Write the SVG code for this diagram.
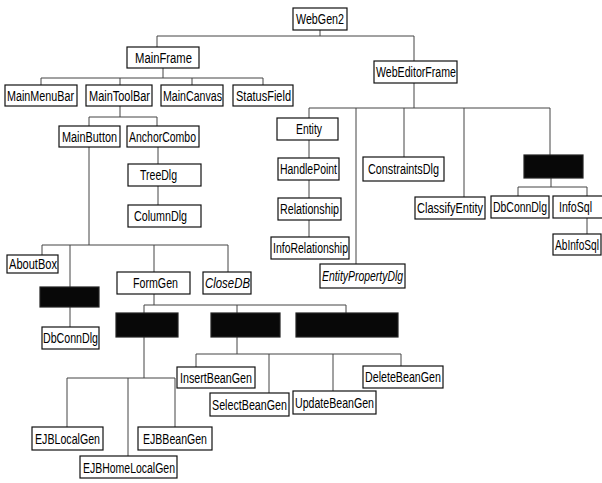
<svg xmlns="http://www.w3.org/2000/svg" width="602" height="483" viewBox="0 0 602 483">
<style>
.n rect{fill:#fff;stroke:#111;stroke-width:1.2}
.n rect.blk{fill:#080808;stroke:#222}
.n text{font-family:"Liberation Sans",Arial,sans-serif;font-size:14px;fill:#000}
.n text.it{font-style:italic}
#conn path{fill:none;stroke:#444;stroke-width:1}
</style>
<rect width="602" height="483" fill="#fff"/>
<g id="conn">
<path d="M320 30V36M157 36H414M157 36V47M414 36V61"/>
<path d="M163 68V78M41 78H263M41 78V85M120 78V85M192 78V85M263 78V85"/>
<path d="M120 106V117M89 117H157M89 117V126M157 117V126"/>
<path d="M89 147V245M42 245H228M42 245V255M70 245V287M154 245V272M228 245V272"/>
<path d="M158 147V164M158 186V205"/>
<path d="M70 307V327"/>
<path d="M154 294V305M144 305H346M144 305V313M237 305V313M346 305V313"/>
<path d="M237 337V354M196 354H401M196 354V367M269 354V393M333 354V391M401 354V366"/>
<path d="M144 337V378M67 378H175M67 378V427M128 378V456M175 378V427"/>
<path d="M414 83V108M309 108H550M309 108V118M356 108V264M404 108V157M464 108V197M550 108V155"/>
<path d="M309 140V158M309 180V198M309 220V237"/>
<path d="M551 178V187M518 187H587M518 187V196M587 187V196"/>
<path d="M587 218V234"/>
</g>
<g id="WebGen2" class="n"><rect x="293" y="8" width="54" height="22"/><text x="296" y="24" textLength="48" lengthAdjust="spacingAndGlyphs">WebGen2</text></g>
<g id="MainFrame" class="n"><rect x="127" y="47" width="72" height="21"/><text x="135" y="63" textLength="57" lengthAdjust="spacingAndGlyphs">MainFrame</text></g>
<g id="MainMenuBar" class="n"><rect x="5" y="85" width="72" height="21"/><text x="7" y="101" textLength="67" lengthAdjust="spacingAndGlyphs">MainMenuBar</text></g>
<g id="MainToolBar" class="n"><rect x="86" y="85" width="66" height="21"/><text x="89" y="101" textLength="61" lengthAdjust="spacingAndGlyphs">MainToolBar</text></g>
<g id="MainCanvas" class="n"><rect x="161" y="85" width="62" height="21"/><text x="163" y="101" textLength="59" lengthAdjust="spacingAndGlyphs">MainCanvas</text></g>
<g id="StatusField" class="n"><rect x="233" y="85" width="60" height="21"/><text x="236" y="101" textLength="55" lengthAdjust="spacingAndGlyphs">StatusField</text></g>
<g id="MainButton" class="n"><rect x="59" y="126" width="61" height="21"/><text x="62" y="142" textLength="55" lengthAdjust="spacingAndGlyphs">MainButton</text></g>
<g id="AnchorCombo" class="n"><rect x="127" y="126" width="72" height="21"/><text x="129" y="142" textLength="67" lengthAdjust="spacingAndGlyphs">AnchorCombo</text></g>
<g id="TreeDlg" class="n"><rect x="128" y="164" width="73" height="22"/><text x="140" y="180" textLength="37" lengthAdjust="spacingAndGlyphs">TreeDlg</text></g>
<g id="ColumnDlg" class="n"><rect x="128" y="205" width="73" height="22"/><text x="134" y="221" textLength="53" lengthAdjust="spacingAndGlyphs">ColumnDlg</text></g>
<g id="AboutBox" class="n"><rect x="7" y="255" width="51" height="18"/><text x="9" y="269" textLength="48" lengthAdjust="spacingAndGlyphs">AboutBox</text></g>
<g id="Hidden1" class="n"><rect class="blk" x="40" y="287" width="59" height="20"/></g>
<g id="FormGen" class="n"><rect x="117" y="272" width="73" height="22"/><text x="133" y="288" textLength="45" lengthAdjust="spacingAndGlyphs">FormGen</text></g>
<g id="CloseDB" class="n"><rect x="203" y="272" width="48" height="22"/><text class="it" x="205" y="288" textLength="45" lengthAdjust="spacingAndGlyphs">CloseDB</text></g>
<g id="DbConnDlg1" class="n"><rect x="42" y="327" width="57" height="22"/><text x="43" y="343" textLength="55" lengthAdjust="spacingAndGlyphs">DbConnDlg</text></g>
<g id="Hidden2" class="n"><rect class="blk" x="116" y="313" width="62" height="24"/></g>
<g id="Hidden3" class="n"><rect class="blk" x="211" y="313" width="69" height="24"/></g>
<g id="Hidden4" class="n"><rect class="blk" x="296" y="313" width="102" height="24"/></g>
<g id="InsertBeanGen" class="n"><rect x="177" y="367" width="78" height="21"/><text x="180" y="383" textLength="72" lengthAdjust="spacingAndGlyphs">InsertBeanGen</text></g>
<g id="SelectBeanGen" class="n"><rect x="210" y="393" width="79" height="23"/><text x="212" y="410" textLength="75" lengthAdjust="spacingAndGlyphs">SelectBeanGen</text></g>
<g id="UpdateBeanGen" class="n"><rect x="293" y="391" width="83" height="23"/><text x="295" y="408" textLength="79" lengthAdjust="spacingAndGlyphs">UpdateBeanGen</text></g>
<g id="DeleteBeanGen" class="n"><rect x="363" y="366" width="80" height="22"/><text x="365" y="382" textLength="76" lengthAdjust="spacingAndGlyphs">DeleteBeanGen</text></g>
<g id="EJBLocalGen" class="n"><rect x="32" y="427" width="71" height="23"/><text x="35" y="444" textLength="65" lengthAdjust="spacingAndGlyphs">EJBLocalGen</text></g>
<g id="EJBBeanGen" class="n"><rect x="138" y="427" width="74" height="23"/><text x="143" y="444" textLength="64" lengthAdjust="spacingAndGlyphs">EJBBeanGen</text></g>
<g id="EJBHomeLocalGen" class="n"><rect x="80" y="456" width="97" height="22"/><text x="83" y="473" textLength="92" lengthAdjust="spacingAndGlyphs">EJBHomeLocalGen</text></g>
<g id="WebEditorFrame" class="n"><rect x="374" y="61" width="83" height="22"/><text x="376" y="77" textLength="80" lengthAdjust="spacingAndGlyphs">WebEditorFrame</text></g>
<g id="Entity" class="n"><rect x="277" y="118" width="61" height="22"/><text x="296" y="134" textLength="26" lengthAdjust="spacingAndGlyphs">Entity</text></g>
<g id="HandlePoint" class="n"><rect x="278" y="158" width="61" height="22"/><text x="280" y="174" textLength="57" lengthAdjust="spacingAndGlyphs">HandlePoint</text></g>
<g id="Relationship" class="n"><rect x="278" y="198" width="63" height="22"/><text x="280" y="214" textLength="59" lengthAdjust="spacingAndGlyphs">Relationship</text></g>
<g id="InfoRelationship" class="n"><rect x="271" y="237" width="78" height="22"/><text x="273" y="253" textLength="75" lengthAdjust="spacingAndGlyphs">InfoRelationship</text></g>
<g id="EntityPropertyDlg" class="n"><rect x="320" y="264" width="85" height="24"/><text class="it" x="322" y="281" textLength="81" lengthAdjust="spacingAndGlyphs">EntityPropertyDlg</text></g>
<g id="ConstraintsDlg" class="n"><rect x="363" y="157" width="81" height="24"/><text x="368" y="174" textLength="71" lengthAdjust="spacingAndGlyphs">ConstraintsDlg</text></g>
<g id="ClassifyEntity" class="n"><rect x="415" y="197" width="70" height="22"/><text x="417" y="213" textLength="66" lengthAdjust="spacingAndGlyphs">ClassifyEntity</text></g>
<g id="Hidden5" class="n"><rect class="blk" x="524" y="155" width="59" height="23"/></g>
<g id="DbConnDlg2" class="n"><rect x="491" y="196" width="58" height="22"/><text x="493" y="212" textLength="54" lengthAdjust="spacingAndGlyphs">DbConnDlg</text></g>
<g id="InfoSql" class="n"><rect x="553" y="196" width="52" height="22"/><text x="559" y="212" textLength="33" lengthAdjust="spacingAndGlyphs">InfoSql</text></g>
<g id="AbInfoSql" class="n"><rect x="553" y="234" width="48" height="21"/><text x="555" y="250" textLength="44" lengthAdjust="spacingAndGlyphs">AbInfoSql</text></g>
</svg>
